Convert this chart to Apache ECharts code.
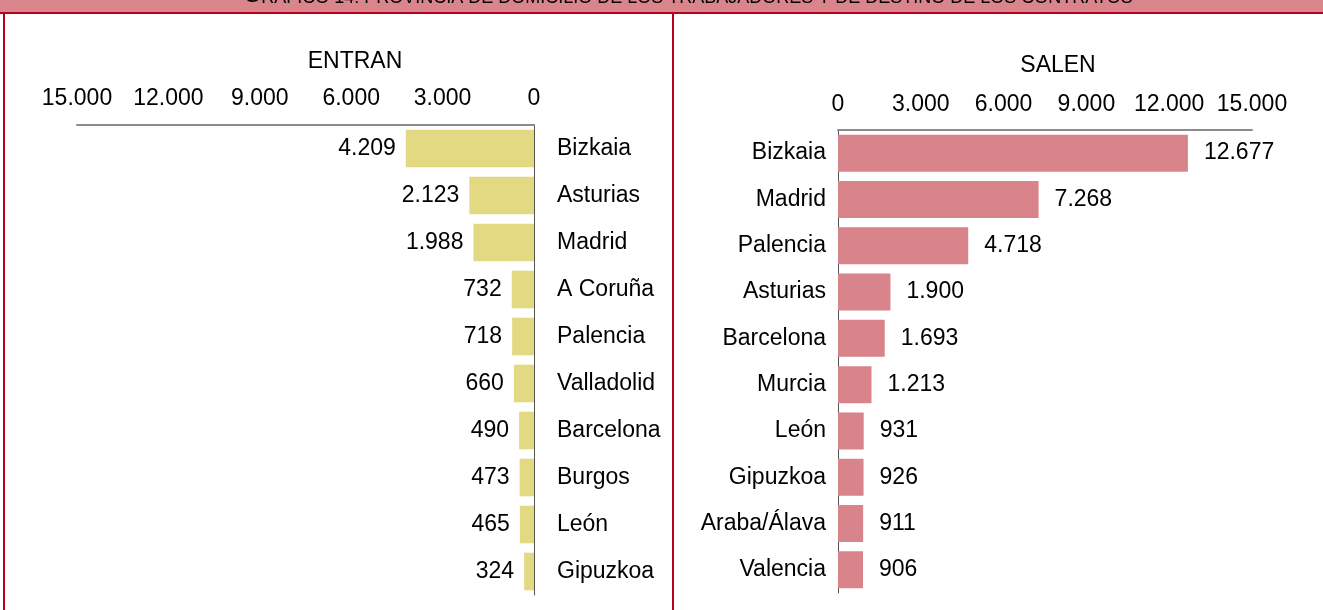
<!DOCTYPE html>
<html>
<head>
<meta charset="utf-8">
<script src="https://cdn.jsdelivr.net/npm/echarts@6/dist/echarts.min.js"></script>
<style>
  html, body { margin: 0; padding: 0; background: #fff; }
  #chart { width: 1323px; height: 610px; }
</style>
</head>
<body>
<div id="chart"></div>
<script>
// datos: provincia de domicilio (entran) y de destino (salen)
const entranCats = ['Bizkaia', 'Asturias', 'Madrid', 'A Coruña', 'Palencia', 'Valladolid', 'Barcelona', 'Burgos', 'León', 'Gipuzkoa'];
const entranVals = [4209, 2123, 1988, 732, 718, 660, 490, 473, 465, 324];
const salenCats = ['Bizkaia', 'Madrid', 'Palencia', 'Asturias', 'Barcelona', 'Murcia', 'León', 'Gipuzkoa', 'Araba/Álava', 'Valencia'];
const salenVals = [12677, 7268, 4718, 1900, 1693, 1213, 931, 926, 911, 906];
const axisMax = 15000;
const axisStep = 3000;

const FONT = '"Liberation Sans", Arial, sans-serif';
const fmt = v => String(v).replace(/\B(?=(\d{3})+(?!\d))/g, '.');

const txt = { color: '#000', fontFamily: FONT, fontSize: 23 };

const chart = echarts.init(document.getElementById('chart'));

const option = {
  animation: false,
  backgroundColor: '#fff',
  grid: [
    { left: 77, width: 457, top: 125, height: 470 },
    { left: 838, width: 414, top: 130, height: 463 }
  ],
  xAxis: [
    {
      gridIndex: 0, type: 'value', position: 'top', inverse: true,
      min: 0, max: axisMax, interval: axisStep,
      axisLine: { show: true, lineStyle: { color: '#8c8c8c', width: 2 } },
      axisTick: { show: false }, splitLine: { show: false },
      axisLabel: Object.assign({ margin: 15, formatter: fmt }, txt)
    },
    {
      gridIndex: 1, type: 'value', position: 'top',
      min: 0, max: axisMax, interval: axisStep,
      axisLine: { show: true, lineStyle: { color: '#8c8c8c', width: 2 } },
      axisTick: { show: false }, splitLine: { show: false },
      axisLabel: Object.assign({ margin: 14, formatter: fmt }, txt)
    }
  ],
  yAxis: [
    {
      gridIndex: 0, type: 'category', data: entranCats, inverse: true, position: 'right',
      axisLine: { show: true, lineStyle: { color: '#555', width: 1 } },
      axisTick: { show: false },
      axisLabel: Object.assign({ margin: 23 }, txt)
    },
    {
      gridIndex: 1, type: 'category', data: salenCats, inverse: true, position: 'left',
      axisLine: { show: true, lineStyle: { color: '#555', width: 1 } },
      axisTick: { show: false },
      axisLabel: Object.assign({ margin: 12 }, txt)
    }
  ],
  series: [
    {
      name: 'ENTRAN', type: 'bar', xAxisIndex: 0, yAxisIndex: 0,
      data: entranVals, barCategoryGap: '20%',
      itemStyle: { color: '#e3d982' },
      label: Object.assign({ show: true, position: 'left', distance: 10, formatter: p => fmt(p.value) }, txt)
    },
    {
      name: 'SALEN', type: 'bar', xAxisIndex: 1, yAxisIndex: 1,
      data: salenVals, barCategoryGap: '20%',
      itemStyle: { color: '#d9838b' },
      label: Object.assign({ show: true, position: 'right', distance: 16, formatter: p => fmt(p.value) }, txt)
    }
  ],
  graphic: [
    // banda del título (cortada arriba)
    { type: 'rect', left: 0, top: 0, shape: { width: 1323, height: 12 }, style: { fill: '#da848b' }, z: 10 },
    { type: 'rect', left: 0, top: 12, shape: { width: 1323, height: 2 }, style: { fill: '#b8001c' }, z: 11 },
    { type: 'rect', left: 3, top: 12, shape: { width: 2, height: 600 }, style: { fill: '#b8001c' }, z: 11 },
    { type: 'rect', left: 672, top: 12, shape: { width: 2, height: 600 }, style: { fill: '#b8001c' }, z: 11 },
    {
      type: 'text', x: 688, y: 7, z: 12,
      style: {
        text: '{a|G}{b|RÁFICO 14: PROVINCIA DE DOMICILIO DE LOS TRABAJADORES Y DE DESTINO DE LOS CONTRATOS}',
        align: 'center', verticalAlign: 'bottom',
        rich: {
          a: { fontFamily: FONT, fontSize: 23, lineHeight: 26, verticalAlign: 'bottom', fill: '#000' },
          b: { fontFamily: FONT, fontSize: 18, lineHeight: 21, verticalAlign: 'bottom', fill: '#000' }
        }
      }
    },
    { type: 'text', x: 355, y: 62, style: { text: 'ENTRAN', align: 'center', verticalAlign: 'middle', font: '23px ' + FONT, fill: '#000' } },
    { type: 'text', x: 1058, y: 66, style: { text: 'SALEN', align: 'center', verticalAlign: 'middle', font: '23px ' + FONT, fill: '#000' } }
  ]
};

chart.setOption(option);
</script>
</body>
</html>
